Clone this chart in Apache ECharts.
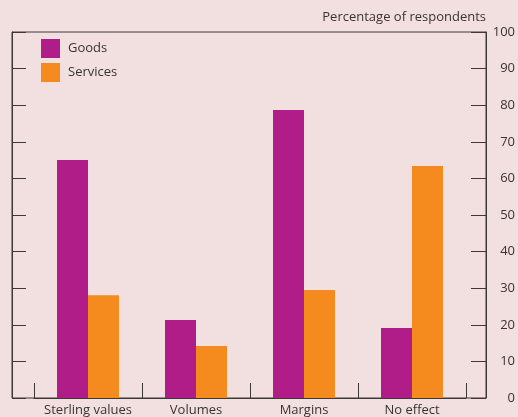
<!DOCTYPE html>
<html>
<head>
<meta charset="utf-8">
<script src="https://cdn.jsdelivr.net/npm/echarts@6/dist/echarts.min.js"></script>
<style>
html,body{margin:0;padding:0;background:#f2dfdf;}
#c{width:518px;height:417px;}
</style>
</head>
<body>
<div id="c"></div>
<script>
var categories = ['Sterling values', 'Volumes', 'Margins', 'No effect'];
var goods = [65, 21.3, 78.7, 19.1];
var services = [28.1, 14.2, 29.5, 63.4];
var yTicks = [0, 10, 20, 30, 40, 50, 60, 70, 80, 90, 100];
var seriesNames = ['Goods', 'Services'];
var yTitle = 'Percentage of respondents';

var FONT = 'Open Sans';
var TXT = '#3a3333';
var AX = '#3f3838';

var chart = echarts.init(document.getElementById('c'), null, {renderer: 'canvas'});
chart.setOption({
  backgroundColor: '#f2dfdf',
  animation: false,
  textStyle: {fontFamily: FONT, color: TXT},
  legend: {
    orient: 'vertical', left: 41, top: 39, padding: 0,
    itemWidth: 19, itemHeight: 19, itemGap: 5, icon: 'rect',
    data: seriesNames,
    textStyle: {fontFamily: FONT, fontSize: 13, color: TXT, padding: [0, 0, 0, 3]}
  },
  grid: [
    {left: 12, right: 29, top: 32, bottom: 19, show: true, borderColor: AX, borderWidth: 1, backgroundColor: 'transparent'},
    {left: 34, right: 52, top: 32, bottom: 19}
  ],
  xAxis: [
    {gridIndex: 0, type: 'category', data: categories, show: false},
    {gridIndex: 1, type: 'category', data: categories,
      axisLine: {show: true, lineStyle: {color: AX, width: 1}},
      axisTick: {show: true, inside: true, length: 15, lineStyle: {color: AX, width: 1}},
      axisLabel: {fontFamily: FONT, fontSize: 13, color: TXT, margin: 6, interval: 0},
      splitLine: {show: false}}
  ],
  yAxis: [
    {gridIndex: 0, type: 'value', min: 0, max: 100, interval: 10, position: 'left',
      axisLine: {show: true, lineStyle: {color: AX}},
      axisTick: {show: true, inside: true, length: 14, lineStyle: {color: AX}},
      axisLabel: {show: false}, splitLine: {show: false}},
    {gridIndex: 0, type: 'value', min: 0, max: 100, interval: 10, position: 'right',
      name: yTitle, nameLocation: 'end', nameGap: 8,
      nameTextStyle: {fontFamily: FONT, fontSize: 13, color: TXT, align: 'right', verticalAlign: 'bottom'},
      axisLine: {show: true, lineStyle: {color: AX}},
      axisTick: {show: true, inside: true, length: 15, lineStyle: {color: AX}},
      axisLabel: {fontFamily: FONT, fontSize: 13, color: TXT, align: 'right', margin: 29,
        formatter: function (v) { return yTicks.indexOf(v) >= 0 ? String(v) : ''; }},
      splitLine: {show: false}},
    {gridIndex: 1, type: 'value', min: 0, max: 100, interval: 10, show: false}
  ],
  series: [
    {name: seriesNames[0], type: 'bar', xAxisIndex: 1, yAxisIndex: 2, data: goods,
      barWidth: 31, barGap: '0%', itemStyle: {color: '#b01c88'}},
    {name: seriesNames[1], type: 'bar', xAxisIndex: 1, yAxisIndex: 2, data: services,
      barWidth: 31, barGap: '0%', itemStyle: {color: '#f58a1f'}}
  ]
});
</script>
</body>
</html>
